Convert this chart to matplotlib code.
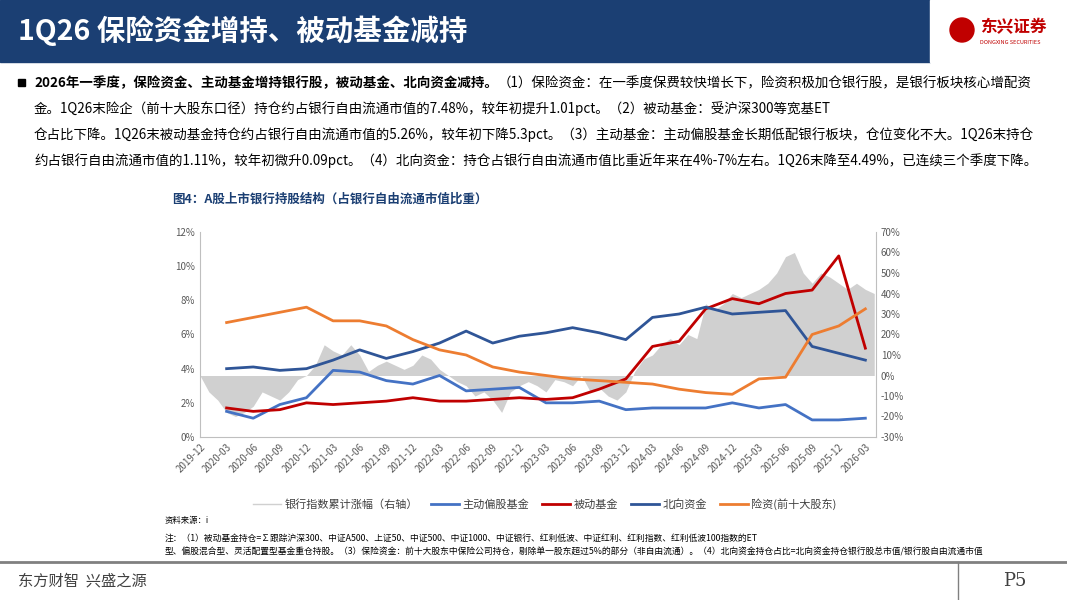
import numpy as np
import matplotlib.pyplot as plt
from matplotlib.patches import Rectangle

plt.rcParams['font.family'] = ['Noto Sans CJK SC', 'DejaVu Sans']

# === DATA ===
tick_labels = ['2019-12', '2020-03', '2020-06', '2020-09', '2020-12', '2021-03', '2021-06', '2021-09',
               '2021-12', '2022-03', '2022-06', '2022-09', '2022-12', '2023-03', '2023-06', '2023-09',
               '2023-12', '2024-03', '2024-06', '2024-09', '2024-12', '2025-03', '2025-06', '2025-09',
               '2025-12', '2026-03']
active = [1.5, 1.1, 1.9, 2.3, 3.9, 3.8, 3.3, 3.1, 3.6, 2.7, 2.8, 2.9, 2.0, 2.0, 2.1, 1.6,
          1.7, 1.7, 1.7, 2.0, 1.7, 1.9, 1.0, 1.0, 1.1]
passive = [1.7, 1.5, 1.6, 2.0, 1.9, 2.0, 2.1, 2.3, 2.1, 2.1, 2.2, 2.3, 2.2, 2.3, 2.8, 3.4,
           5.3, 5.6, 7.5, 8.1, 7.8, 8.4, 8.6, 10.6, 5.2]
north = [4.0, 4.1, 3.9, 4.0, 4.5, 5.1, 4.6, 5.0, 5.5, 6.2, 5.5, 5.9, 6.1, 6.4, 6.1, 5.7,
         7.0, 7.2, 7.6, 7.2, 7.3, 7.4, 5.3, 4.9, 4.5]
insur = [6.7, 7.0, 7.3, 7.6, 6.8, 6.8, 6.5, 5.7, 5.1, 4.8, 4.1, 3.8, 3.6, 3.4, 3.3, 3.2,
         3.1, 2.8, 2.6, 2.5, 3.4, 3.5, 6.0, 6.5, 7.5]
# bank index cumulative change (monthly, right axis, %), 2019-12 .. 2026-04
bank = [0, -8, -12, -18, -20, -18, -15, -8, -10, -12, -8, -2, 0,
        5, 15, 12, 10, 15, 10, 2, 5, 7, 5, 3, 5,
        10, 8, 3, 0, -3, -5, -10, -8, -12, -18, -8, -5,
        -3, -5, -8, -2, -3, -5, 0, -8, -6, -10, -12, -8,
        2, 8, 10, 15, 18, 15, 20, 18, 35, 32, 35, 40,
        38, 40, 42, 45, 50, 58, 60, 50, 45, 50, 48, 45,
        42, 45, 42, 40]

W, H = 1067, 600
fig = plt.figure(figsize=(W / 100, H / 100), dpi=100)

def px(x, y, w, h):
    return [x / W, 1 - (y + h) / H, w / W, h / H]

# === HEADER / FOOTER ===
deco = fig.add_axes([0, 0, 1, 1])
deco.set_xlim(0, W)
deco.set_ylim(H, 0)
deco.axis('off')
deco.add_patch(Rectangle((0, 0), 930, 62, color='#1B3F73'))
deco.add_patch(Rectangle((930, 0), 137, 62, color='white'))
deco.text(18, 31, '1Q26 保险资金增持、被动基金减持', color='white', fontsize=20.5,
          fontweight='bold', va='center')
deco.add_patch(plt.Circle((962, 30), 12, color='#C00000'))
deco.text(980, 27, '东兴证券', color='#C00000', fontsize=12, fontweight='bold', va='center')
deco.text(980, 42, 'DONGXING SECURITIES', color='#C00000', fontsize=4, va='center')
deco.plot([0, W], [562, 562], color='#808080', lw=2)
deco.plot([958, 958], [562, 600], color='#808080', lw=1)
deco.text(18, 581, '东方财智  兴盛之源', fontsize=11, va='center', color='#404040')
deco.text(1015, 581, 'P5', fontsize=13, va='center', ha='center', color='#404040', family='serif')

deco.add_patch(Rectangle((18, 79), 7, 7, color='black'))
body = [
    ('2026年一季度，保险资金、主动基金增持银行股，被动基金、北向资金减持。', '（1）保险资金：在一季度保费较快增长下，险资积极加仓银行股，是银行板块核心增配资'),
    ('', '金。1Q26末险企（前十大股东口径）持仓约占银行自由流通市值的7.48%，较年初提升1.01pct。（2）被动基金：受沪深300等宽基ET'),
    ('', '仓占比下降。1Q26末被动基金持仓约占银行自由流通市值的5.26%，较年初下降5.3pct。（3）主动基金：主动偏股基金长期低配银行板块，仓位变化不大。1Q26末持仓'),
    ('', '约占银行自由流通市值的1.11%，较年初微升0.09pct。（4）北向资金：持仓占银行自由流通市值比重近年来在4%-7%左右。1Q26末降至4.49%，已连续三个季度下降。'),
]
for i, (b, t) in enumerate(body):
    y = 83 + i * 26
    if b:
        tb = deco.text(34, y, b, fontsize=9.7, fontweight='bold', va='center')
        fig.canvas.draw()
        bb = tb.get_window_extent()
        deco.text(34 + bb.width, y, t, fontsize=9.7, va='center')
    else:
        deco.text(34, y, t, fontsize=9.7, va='center')

deco.text(172, 199, '图4：A股上市银行持股结构（占银行自由流通市值比重）', fontsize=9,
          fontweight='bold', color='#1B3F73', va='center')
deco.text(165, 521, '资料来源：i', fontsize=6, style='italic', va='center')
deco.text(165, 538, '注：（1）被动基金持仓=∑跟踪沪深300、中证A500、上证50、中证500、中证1000、中证银行、红利低波、中证红利、红利指数、红利低波100指数的ET',
          fontsize=6.3, style='italic', va='center')
deco.text(165, 552, '型、偏股混合型、灵活配置型基金重仓持股。（3）保险资金：前十大股东中保险公司持仓，剔除单一股东超过5%的部分（非自由流通）。（4）北向资金持仓占比=北向资金持仓银行股总市值/银行股自由流通市值',
          fontsize=6.3, style='italic', va='center')

# === CHART ===
ax = fig.add_axes(px(200, 232, 676, 205))
ax2 = ax.twinx()
mx = np.arange(len(bank)) / 3
ax2.fill_between(mx, 0, bank, color='#D0D0D0', lw=0, label='银行指数累计涨幅（右轴）')
ax2.set_ylim(-30, 70)
ax2.set_yticks(range(-30, 71, 10))
ax2.set_yticklabels([f'{v}%' for v in range(-30, 71, 10)])

qx = np.arange(1, len(active) + 1)
ax.plot(qx, active, color='#4472C4', lw=2, label='主动偏股基金')
ax.plot(qx, passive, color='#C00000', lw=2, label='被动基金')
ax.plot(qx, north, color='#2F5597', lw=2, label='北向资金')
ax.plot(qx, insur, color='#ED7D31', lw=2, label='险资(前十大股东)')
ax.set_zorder(ax2.get_zorder() + 1)
ax.patch.set_visible(False)
ax.set_ylim(0, 12)
ax.set_yticks(range(0, 13, 2))
ax.set_yticklabels([f'{v}%' for v in range(0, 13, 2)])
ax.set_xlim(0, 25.4)
ax.set_xticks(range(len(tick_labels)))
ax.set_xticklabels(tick_labels, rotation=45, ha='right', rotation_mode='anchor')
for a in (ax, ax2):
    a.tick_params(labelsize=7, colors='#595959', length=0)
    for s in a.spines.values():
        s.set_visible(False)
ax.spines['left'].set_visible(True)
ax.spines['left'].set_color('#BFBFBF')
ax.spines['bottom'].set_visible(True)
ax.spines['bottom'].set_color('#BFBFBF')
ax2.spines['right'].set_visible(True)
ax2.spines['right'].set_color('#BFBFBF')

h2, l2 = ax2.get_legend_handles_labels()
h1, l1 = ax.get_legend_handles_labels()
bank_h = plt.Line2D([], [], color='#D0D0D0', lw=1)
leg = fig.legend([bank_h] + h1, l2 + l1, loc='center', bbox_to_anchor=(545 / W, 1 - 504 / H),
                 ncol=5, frameon=False, fontsize=8, handlelength=2.5, columnspacing=1.2,
                 handletextpad=0.3)
for t in leg.get_texts():
    t.set_color('#404040')

fig.savefig('out.png', dpi=100)
